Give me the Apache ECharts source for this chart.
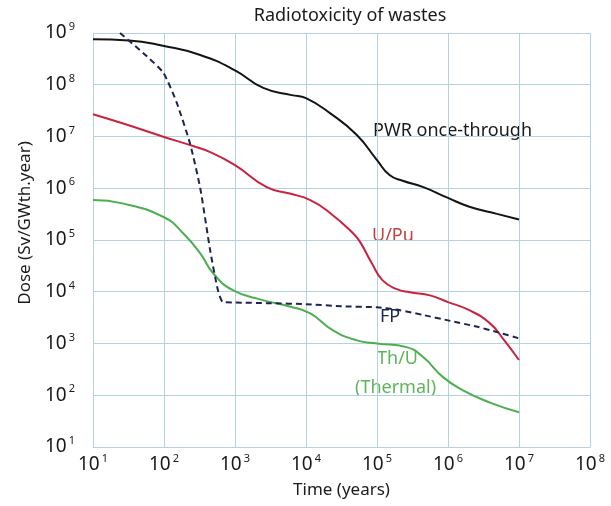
<!DOCTYPE html>
<html>
<head>
<meta charset="utf-8">
<script src="https://cdn.jsdelivr.net/npm/echarts@6/dist/echarts.min.js"></script>
<style>
html,body{margin:0;padding:0;background:#fff;}
#chart{width:611px;height:506px;}
</style>
</head>
<body>
<div id="chart"></div>
<script>
// values (time in years, dose in Sv/GWth.year)
var pwrTime=[10,32,100,316,1000,2500,6300,10000,22000,52000,1e5,1.5e5,2.3e5,4.5e5,1e6,2e6,4.9e6,1e7];
var pwrDose=[7.6e8,7.2e8,5.6e8,3.8e8,1.9e8,8.7e7,6.3e7,5.5e7,2.8e7,1.07e7,3.5e6,1.8e6,1.4e6,1.05e6,6.5e5,4.4e5,3.2e5,2.5e5];

var upuTime=[10,26,100,234,447,1000,2800,5900,11500,22000,46000,58000,85000,1.2e5,1.9e5,2.9e5,5.6e5,1e6,2e6,3.9e6,5.9e6,1e7];
var upuDose=[2.7e7,1.8e7,9.8e6,6.8e6,5.0e6,2.8e6,1.05e6,7.9e5,5.9e5,3.3e5,1.35e5,9.1e4,3.5e4,1.66e4,1.12e4,9.8e3,8.5e3,6.3e3,4.4e3,2.45e3,1.26e3,480];

var thuTime=[10,26,100,186,324,490,930,2450,5900,11500,24000,52000,1e5,2.6e5,4.5e5,8.5e5,1.6e6,3.9e6,1e7];
var thuDose=[5.9e5,5.1e5,2.75e5,1.35e5,5.5e4,2.3e4,1.07e4,6.9e3,5.2e3,3.8e3,1.8e3,1.15e3,1.0e3,850,540,224,126,72,47];

var fpTime=[24,58,98,151,234,324,447,575,676,1000,3160,1e4,31600,1e5,2.1e5,4.5e5,1e6,2.6e6,4.9e6,1e7];
var fpDose=[1e9,3.5e8,1.7e8,4.5e7,7.1e6,1e6,6.3e4,1.07e4,6.3e3,6.2e3,6.0e3,5.75e3,5.25e3,5.0e3,4.4e3,3.55e3,2.8e3,2.1e3,1.66e3,1.26e3];

var seriesNames=['PWR once-through','U/Pu','Th/U (Thermal)','FP'];

function pairs(t,d){
	var out=[];
	for(var i=0;i<t.length;i++){out.push([t[i],d[i]]);}
	return out;
}

var font='"Noto Sans", sans-serif';
var gridColor='#b3d3e2';

function powLabel(v){
	var e=Math.round(Math.log(v)/Math.LN10);
	return '{b|10}{s|'+e+'}';
}
var tickRich={
	b:{fontSize:19,fontFamily:font,color:'#1a1a1a',lineHeight:23},
	s:{fontSize:11,fontFamily:font,color:'#1a1a1a',verticalAlign:'top',lineHeight:10,padding:[0,0,0,2]}
};

var myChart=echarts.init(document.getElementById('chart'));
var option={
	animation:false,
	backgroundColor:'#fff',
	title:{
		text:'Radiotoxicity of wastes',
		left:345,
		top:2,
		textAlign:'center',
		textStyle:{fontFamily:font,fontSize:18,fontWeight:'normal',color:'#1a1a1a'}
	},
	grid:{left:93,right:21,top:33,bottom:59,containLabel:false,outerBoundsMode:'none'},
	xAxis:{
		type:'log',logBase:10,min:10,max:1e8,splitNumber:7,
		name:'Time (years)',nameLocation:'middle',nameGap:35,
		nameTextStyle:{fontFamily:font,fontSize:17,color:'#1a1a1a'},
		axisLine:{lineStyle:{color:gridColor,width:1}},
		axisTick:{show:false},
		splitLine:{show:true,lineStyle:{color:gridColor,width:1}},
		minorTick:{show:false},
		axisLabel:{formatter:powLabel,rich:tickRich,margin:6}
	},
	yAxis:{
		type:'log',logBase:10,min:10,max:1e9,splitNumber:8,
		axisLine:{show:true,lineStyle:{color:gridColor,width:1}},
		axisTick:{show:false},
		splitLine:{show:true,lineStyle:{color:gridColor,width:1}},
		axisLabel:{formatter:powLabel,rich:tickRich,margin:18}
	},
	series:[{
		name:seriesNames[0],type:'line',data:pairs(pwrTime,pwrDose),
		showSymbol:false,smooth:0.5,
		lineStyle:{color:'#141414',width:2}
	},{
		name:seriesNames[1],type:'line',data:pairs(upuTime,upuDose),
		showSymbol:false,smooth:0.5,
		lineStyle:{color:'#c8243f',width:2}
	},{
		name:seriesNames[2],type:'line',data:pairs(thuTime,thuDose),
		showSymbol:false,smooth:0.5,
		lineStyle:{color:'#4cae4f',width:2}
	},{
		name:seriesNames[3],type:'line',data:pairs(fpTime,fpDose),
		showSymbol:false,smooth:0.2,
		lineStyle:{color:'#1e2452',width:2,type:[6,4]}
	}],
	graphic:[
		{type:'text',x:25,y:223,rotation:Math.PI/2,style:{text:'Dose (Sv/GWth.year)',font:'17px '+font,fill:'#1a1a1a',align:'center',verticalAlign:'middle'}},
		{type:'text',left:373,top:122,style:{text:'PWR once-through',font:'18px '+font,fill:'#1a1a1a'}},
		{type:'text',left:372,top:227,style:{text:'U/Pu',font:'18px '+font,fill:'#c0443f'}},
		{type:'text',left:380,top:308,style:{text:'FP',font:'18px '+font,fill:'#1e2452'}},
		{type:'text',left:377,top:350,style:{text:'Th/U',font:'18px '+font,fill:'#5db55b'}},
		{type:'text',left:355,top:379,style:{text:'(Thermal)',font:'18px '+font,fill:'#5db55b'}}
	]
};
myChart.setOption(option);
</script>
</body>
</html>
